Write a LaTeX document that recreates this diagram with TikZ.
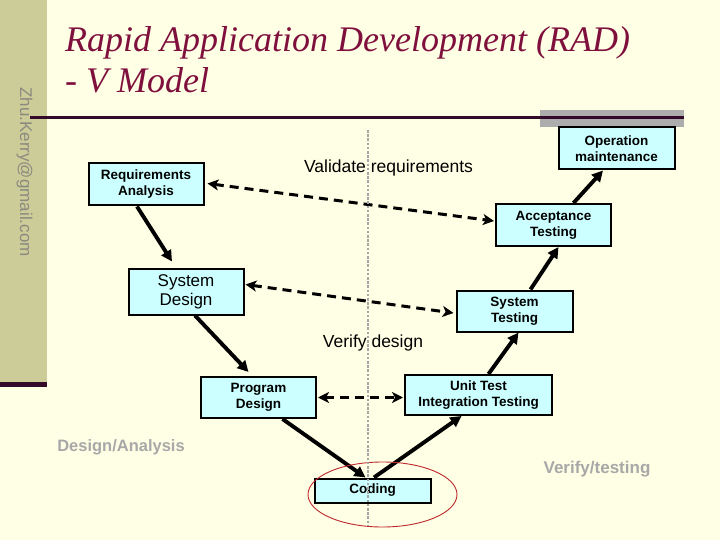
\documentclass[tikz,border=0pt]{standalone}
\usepackage{fontspec}
\setmainfont{Liberation Sans}
\newfontfamily\titlefont{Liberation Serif}
\usetikzlibrary{arrows.meta,shapes.geometric}
\definecolor{cream}{HTML}{FFFFE5}
\definecolor{side}{HTML}{CCCC99}
\definecolor{darkline}{HTML}{330A2A}
\definecolor{titlecol}{HTML}{7F0F3C}
\definecolor{boxfill}{HTML}{CCFFFF}
\definecolor{graytext}{HTML}{A8A8A8}
\definecolor{mailcol}{HTML}{8A8A80}
\definecolor{dotcol}{HTML}{A6A6A6}
\definecolor{ringcol}{HTML}{C0282E}
\tikzset{
  stagebox/.style={draw=black, line width=2pt, fill=boxfill, align=center, inner sep=0pt},
  smallbold/.style={font=\fontsize{13.5}{16}\selectfont\bfseries},
  bigreg/.style={font=\fontsize{17}{19}\selectfont},
  flow/.style={line width=3.9pt, -{Triangle[length=11pt,width=11pt]}},
  link/.style={line width=3pt, dash pattern=on 9pt off 6pt,
    {Stealth[length=11pt,width=11pt,inset=3pt]}-{Stealth[length=11pt,width=11pt,inset=3pt]}},
  lbl/.style={inner sep=0pt, font=\fontsize{17.5}{20}\selectfont},
  sidelbl/.style={inner sep=0pt, text=graytext, font=\fontsize{16.5}{19}\selectfont\bfseries},
}
\begin{document}
\begin{tikzpicture}[x=1pt,y=-1pt]
\fill[cream] (0,0) rectangle (720,540);
\useasboundingbox (0,0) rectangle (720,540);
% sidebar
\fill[side] (0,0) rectangle (47,383);
\fill[darkline] (0,382) rectangle (47,387);
\node[rotate=-90, inner sep=0pt, text=mailcol, font=\fontsize{17}{19}\selectfont] (mail) at (24.5,172) {Zhu.Kerry@gmail.com};
% top rule
\fill[black!32] (540,110) rectangle (684,127);
\fill[darkline] (30,116) rectangle (684,119.5);
% title
\node[anchor=base west, inner sep=0pt, text=titlecol, font=\titlefont\itshape\fontsize{36}{40}\selectfont] (t1) at (65,52) {Rapid Application Development (RAD)};
\node[anchor=base west, inner sep=0pt, text=titlecol, font=\titlefont\itshape\fontsize{36}{40}\selectfont] (t2) at (65,93) {- V Model};
% stages
\node[stagebox, smallbold, minimum width=115pt, minimum height=42pt] (req) at (146,184.5) {Requirements\\Analysis};
\node[stagebox, bigreg, minimum width=115pt, minimum height=46pt] (sd) at (186,291.5) {System\\Design};
\node[stagebox, smallbold, minimum width=115pt, minimum height=41pt] (pd) at (258.5,397.5) {Program\\Design};
\node[stagebox, smallbold, minimum width=116pt, minimum height=24pt] (cod) at (372.5,490.5) {Coding};
\node[stagebox, smallbold, minimum width=147pt, minimum height=40pt] (ut) at (478.5,395) {Unit Test\\Integration Testing};
\node[stagebox, smallbold, minimum width=116pt, minimum height=41pt] (st) at (514.5,311) {System\\Testing};
\node[stagebox, smallbold, minimum width=115pt, minimum height=42pt] (at) at (553.5,225) {Acceptance\\Testing};
\node[stagebox, smallbold, minimum width=116pt, minimum height=42pt] (om) at (616.5,148.5) {Operation\\maintenance};
% labels
\node[lbl] (vr) at (388.5,168) {Validate requirements};
\node[lbl] (vd) at (373,343) {Verify design};
\node[sidelbl] (da) at (121,447) {Design/Analysis};
\node[sidelbl, font=\fontsize{17}{19}\selectfont\bfseries] (vt) at (597,469) {Verify/testing};
% flow arrows
\draw[flow] ([xshift=-9pt]req.south) -- ([xshift=-14pt,yshift=6pt]sd.north);
\draw[flow] ([xshift=9pt]sd.south) -- ([xshift=-10pt,yshift=4pt]pd.north);
\draw[flow] ([xshift=24pt]pd.south) -- ([xshift=-7pt]cod.north);
\draw[flow] ([xshift=1.5pt]cod.north) -- ([xshift=-17pt]ut.south);
\draw[flow] ([xshift=10pt]ut.north) -- ([xshift=4pt]st.south);
\draw[flow] ([xshift=16pt]st.north) -- ([xshift=5pt]at.south);
\draw[flow] ([xshift=20pt]at.north) -- ([xshift=-13.5pt]om.south);
% verification links
\draw[link] ([xshift=3pt,yshift=1pt]req.east) -- ([xshift=-1pt,yshift=4pt]at.west);
\draw[link] ([xshift=1pt,yshift=7pt]sd.east) -- ([xshift=-2pt,yshift=-2pt]st.west);
\draw[link] ([xshift=1pt,yshift=0pt]pd.east) -- ([xshift=-1pt,yshift=-2.5pt]ut.west);
% ring round coding
\node[ellipse, draw=ringcol, line width=0.9pt, minimum width=149pt, minimum height=65pt, inner sep=0pt] (ring) at (382.5,494.5) {};
% dotted centre line
\coordinate (ctop) at (368,130);
\coordinate (cbot) at (368,525);
\draw[dotcol, line width=2.6pt, dash pattern=on 2.6pt off 1.6pt] (ctop) -- (cbot);
\end{tikzpicture}
\end{document}
